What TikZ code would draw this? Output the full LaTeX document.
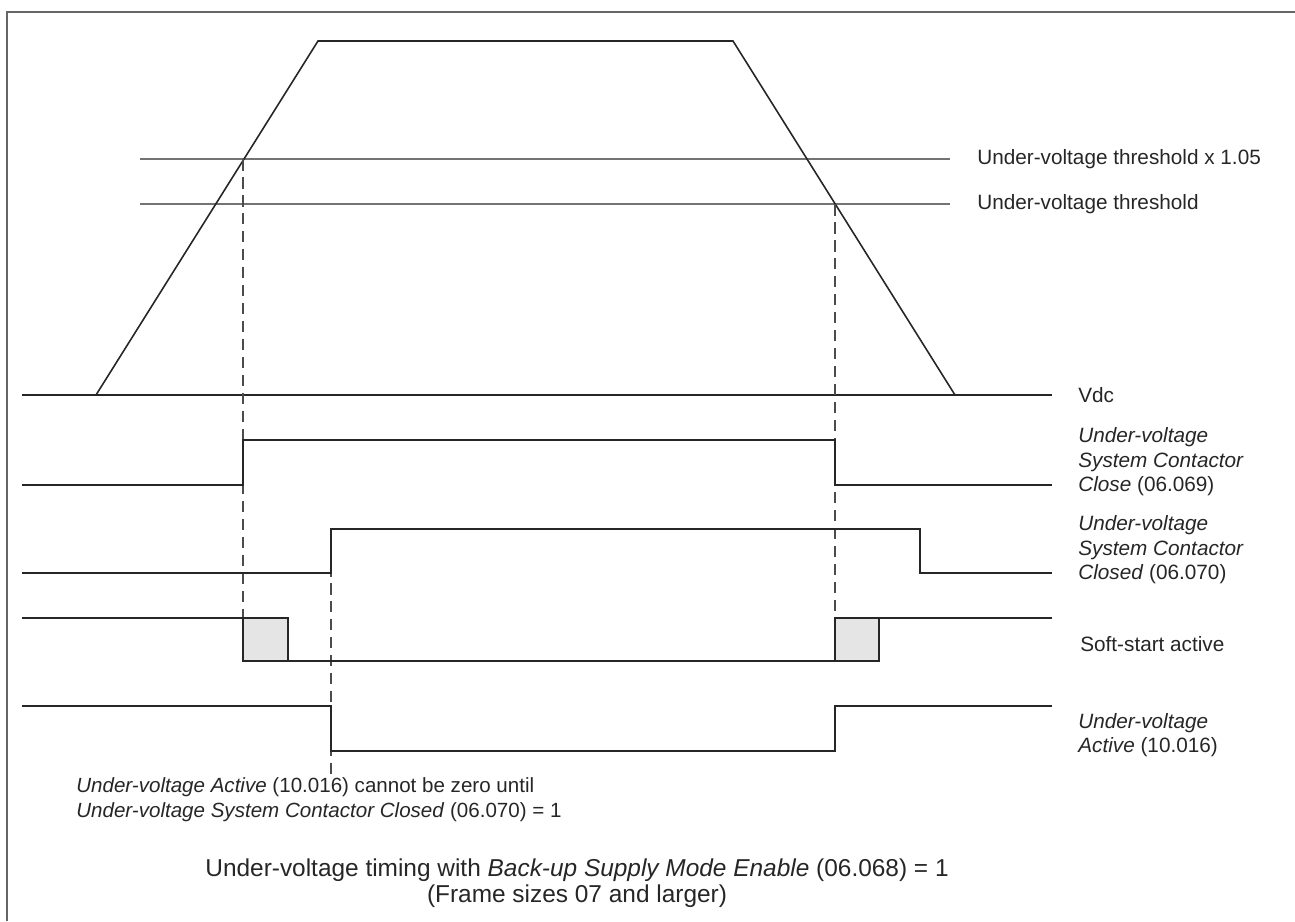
\documentclass[tikz,border=0pt]{standalone}
\usepackage{fontspec}
\setmainfont{Liberation Sans}
\usepackage{tikz}
\usetikzlibrary{positioning}

\begin{document}
\begin{tikzpicture}[x=0.02cm, y=-0.02cm]
  \tikzset{
    frm/.style={draw=black!60, line width=1.2pt},
    wave/.style={draw=black!85, line width=0.9pt},
    thr/.style={draw=black!55, line width=1.4pt},
    guide/.style={draw=black!70, line width=1pt, dash pattern=on 0.23cm off 0.13cm},
    ssbox/.style={draw=black!85, fill=black!10, line width=0.9pt},
    lbl/.style={anchor=west, inner sep=0pt, align=left, font=\fontsize{11.8}{14}\selectfont, text=black!85},
    note/.style={anchor=west, inner sep=0pt, align=left, font=\fontsize{11.7}{14.2}\selectfont, text=black!85},
    capt/.style={inner sep=0pt, align=center, font=\fontsize{13.9}{14.8}\selectfont, text=black!85}
  }
  \useasboundingbox (0,0) rectangle (1295,921);

  % - Frame ---
  \draw[frm] (7,921) -- (7,12) -- (1295,12);

  % - Vdc ramp and thresholds ---
  \draw[thr] (140,159) -- (950,159);
  \draw[thr] (140,204) -- (950,204);
  \draw[wave] (96,395) -- (318,41) -- (733,41) -- (955,395);
  \draw[wave] (22,395) -- (1052,395);

  % - Soft-start boxes ---
  \draw[ssbox] (243,618) rectangle (288,661);
  \draw[ssbox] (835,618) rectangle (879,661);

  % - Dashed guides ---
  \draw[guide] (243,159) -- (243,661);
  \draw[guide] (835,204) -- (835,661);
  \draw[guide] (331,529) -- (331,778);

  % - Signals ---
  \draw[wave] (22,485) -- (243,485) -- (243,440) -- (835,440) -- (835,485) -- (1052,485);
  \draw[wave] (22,573) -- (331,573) -- (331,529) -- (920,529) -- (920,573) -- (1052,573);
  \draw[wave] (22,618) -- (243,618) -- (243,661) -- (835,661) -- (835,618) -- (1052,618);
  \draw[wave] (22,706) -- (331,706) -- (331,751) -- (835,751) -- (835,706) -- (1052,706);

  % - Labels ---
  \node[lbl] (thr105) at (977,159) {Under-voltage threshold x 1.05};
  \node[lbl] (thr100) at (977,204) {Under-voltage threshold};
  \node[lbl] (vdc) at (1078,395) {Vdc};
  \node[lbl] (sclose) at (1078,462) {\textit{Under-voltage}\\\textit{System Contactor}\\\textit{Close} (06.069)};
  \node[lbl] (sclosed) at (1078,550) {\textit{Under-voltage}\\\textit{System Contactor}\\\textit{Closed} (06.070)};
  \node[lbl] (soft) at (1080,644) {Soft-start active};
  \node[lbl] (uvact) at (1078,735) {\textit{Under-voltage}\\\textit{Active} (10.016)};

  % - Note and caption ---
  \node[note] (uvnote) at (76,800) {\textit{Under-voltage Active} (10.016) cannot be zero until\\\textit{Under-voltage System Contactor Closed} (06.070) = 1};
  \node[capt] (caption) at (577,883) {Under-voltage timing with \textit{Back-up Supply Mode Enable} (06.068) = 1\\(Frame sizes 07 and larger)};

\end{tikzpicture}
\end{document}
